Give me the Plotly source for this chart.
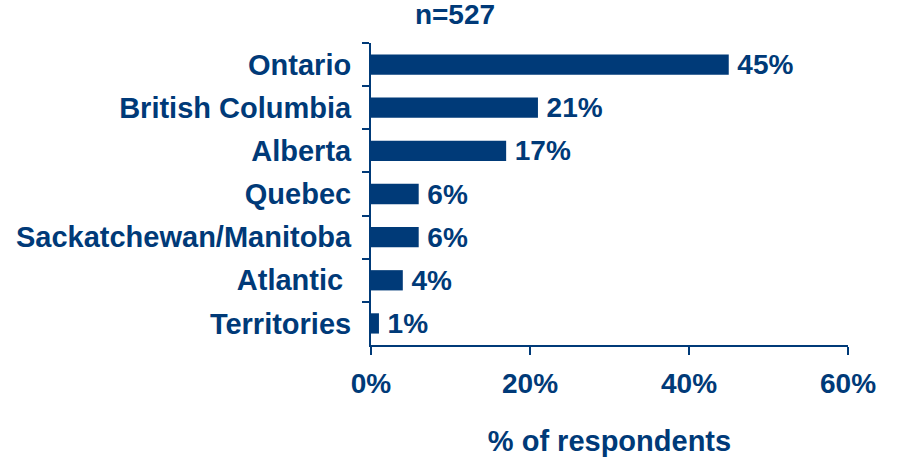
import plotly.graph_objects as go

regions = ["Ontario", "British Columbia", "Alberta", "Quebec",
           "Sackatchewan/Manitoba", "Atlantic ", "Territories"]
pct = [45, 21, 17, 6, 6, 4, 1]
x_ticks = [0, 20, 40, 60]
x_tick_labels = ["0%", "20%", "40%", "60%"]

navy = "#003A78"
font = "Arial, Liberation Sans, sans-serif"

fig = go.Figure(
    go.Bar(
        x=pct,
        y=regions,
        orientation="h",
        marker=dict(color=navy, line=dict(width=0)),
        width=0.47,
        text=[f"<b>\u2009{v}%</b>" for v in pct],
        textposition="outside",
        textfont=dict(family=font, size=28, color=navy),
        cliponaxis=False,
    )
)

fig.update_layout(
    width=899,
    height=458,
    margin=dict(l=371, r=51, t=43, b=113, autoexpand=False),
    paper_bgcolor="white",
    plot_bgcolor="white",
    showlegend=False,
    uniformtext=dict(minsize=28, mode="show"),
    title=dict(
        text="<b>n=527</b>",
        x=455 / 899,
        xanchor="center",
        y=0.99,
        yanchor="top",
        font=dict(family=font, size=28, color=navy),
    ),
    xaxis=dict(
        range=[0, 60],
        tickvals=x_ticks,
        ticktext=[f"<b>{t}</b>" for t in x_tick_labels],
        ticks="outside",
        ticklen=8,
        tickwidth=2,
        tickcolor=navy,
        showline=True,
        linecolor=navy,
        linewidth=2,
        showgrid=False,
        zeroline=False,
        automargin=False,
        ticklabelstandoff=4,
        tickfont=dict(family=font, size=28, color=navy),
        title=dict(
            text="<b>% of respondents</b>",
            font=dict(family=font, size=29, color=navy),
            standoff=33,
        ),
    ),
    yaxis=dict(
        autorange="reversed",
        ticks="outside",
        tickson="boundaries",
        ticklen=7,
        tickwidth=2,
        tickcolor=navy,
        showline=True,
        linecolor=navy,
        linewidth=2,
        showgrid=False,
        automargin=False,
        ticklabelstandoff=12,
        tickfont=dict(family=font, size=29, color=navy, weight="bold"),
    ),
)

# drop the browser's default body margin so the figure sits at the page origin
fig.write_html(
    "out.html",
    config={"displayModeBar": False},
    post_script="document.body.style.margin='0px';",
)
